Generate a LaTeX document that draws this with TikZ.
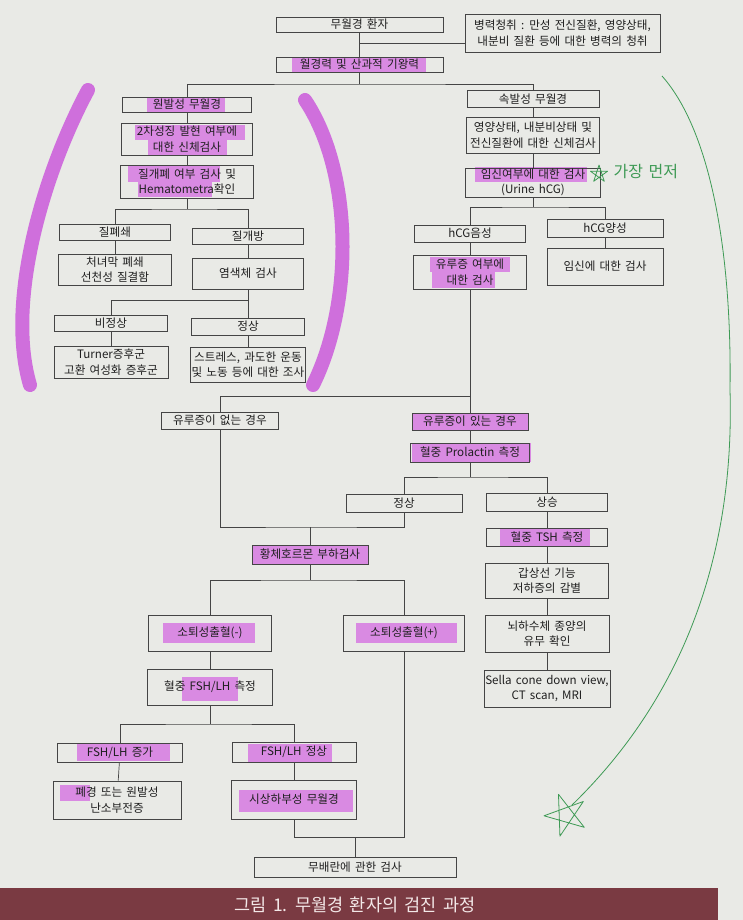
\documentclass[tikz,border=0pt]{standalone}
\usepackage{fontspec}
\setmainfont[WordSpace=1.6]{Noto Sans CJK KR}
\definecolor{page}{HTML}{E9EAE6}
\definecolor{boxline}{HTML}{454545}
\definecolor{ink}{HTML}{1F1F1F}
\definecolor{hlpink}{HTML}{D98AE2}
\definecolor{hlarc}{HTML}{CF6FDC}
\definecolor{pengreen}{HTML}{3E9A55}
\definecolor{capbar}{HTML}{7A3A42}
\definecolor{captext}{HTML}{F3E8E8}

\begin{document}
\begin{tikzpicture}[x=1pt, y=-1pt]
    % ===== PARAMETERS =====
    \pgfmathsetmacro{\W}{743}   % picture width in px
    \pgfmathsetmacro{\H}{920}   % picture height in px
    \pgfmathsetmacro{\LW}{0.7}  % line width in pt

    % ===== STYLES =====
    \tikzset{
        box/.style={draw=boxline, line width=\LW pt, align=center,
            inner sep=0pt, text=ink, font=\fontsize{11.6}{15.5}\selectfont},
        bsize/.style 2 args={minimum width=#1pt, minimum height=#2pt},
        conn/.style={draw=boxline, line width=\LW pt},
        hl/.style={fill=hlpink},
        marker/.style={draw=hlarc, line width=14pt, line cap=round},
        pen/.style={draw=pengreen, line width=0.8pt, line join=round}
    }

    % ===== PAGE =====
    \useasboundingbox (0,0) rectangle (\W,\H);
    \fill[page] (0,0) rectangle (\W,\H);

    % ===== HIGHLIGHTER =====
    % Arcs round the primary branch
    \draw[marker] (88,90) .. controls (45,170) and (5,300) .. (30,385);
    \draw[marker] (305,100) .. controls (352,170) and (355,300) .. (313,385);

    % Marked texts
    \fill[hl] (292,58) rectangle (426,72);
    \fill[hl] (147,97) rectangle (225,113);
    \fill[hl] (135,125) rectangle (245,140);
    \fill[hl] (148,140) rectangle (227,155);
    \fill[hl] (128,166) rectangle (220,182);
    \fill[hl] (138,182) rectangle (212,197);
    \fill[hl] (475,167) rectangle (587,182);
    \fill[hl] (430,257) rectangle (510,272);
    \fill[hl] (432,272) rectangle (495,288);
    \fill[hl] (413,413) rectangle (529,430);
    \fill[hl] (412,443) rectangle (531,462);
    \fill[hl] (500,528) rectangle (590,547);
    \fill[hl] (252,545) rectangle (368,564);
    \fill[hl] (163,623) rectangle (255,643);
    \fill[hl] (356,623) rectangle (457,643);
    \fill[hl] (182,677) rectangle (238,701);
    \fill[hl] (77,743) rectangle (170,761);
    \fill[hl] (248,744) rectangle (332,762);
    \fill[hl] (60,785) rectangle (90,801);
    \fill[hl] (239,790) rectangle (353,812);

    % ===== BOXES =====
    % Top
    \node[box, bsize={167}{15}] (top) at (359.5,24.5) {무월경 환자};
    \node[box, bsize={167}{15}] (hist) at (359.5,64.5) {월경력 및 산과적 기왕력};
    \node[box, bsize={195}{38}] (past) at (562.5,33) {병력청취 : 만성 전신질환, 영양상태,\\내분비 질환 등에 대한 병력의 청취};

    % Primary amenorrhea
    \node[box, bsize={129}{15}] (prim) at (187,104.5) {원발성 무월경};
    \node[box, bsize={131}{32}] (sex) at (187,139) {2차성징 발현 여부에\\대한 신체검사};
    \node[box, bsize={133}{33}] (vag) at (187,181.5) {질개폐 여부 검사 및\\Hematometra확인};
    \node[box, bsize={111}{16}] (clos) at (115,232) {질폐쇄};
    \node[box, bsize={111}{16}] (open) at (248,236) {질개방};
    \node[box, bsize={113}{31}] (hymen) at (115,269.5) {처녀막 폐쇄\\선천성 질결함};
    \node[box, bsize={111}{31}] (chrom) at (248,273.5) {염색체 검사};
    \node[box, bsize={113}{16}] (abn) at (111,323) {비정상};
    \node[box, bsize={113}{17}] (norm) at (248,326.5) {정상};
    \node[box, bsize={114}{32}] (turner) at (111,362) {Turner증후군\\고환 여성화 증후군};
    \node[box, bsize={115}{35}] (stress) at (248,364.5) {스트레스, 과도한 운동\\및 노동 등에 대한 조사};

    % Secondary amenorrhea
    \node[box, bsize={132}{17}] (sec) at (533,99) {속발성 무월경};
    \node[box, bsize={133}{36}] (phys) at (533,135) {영양상태, 내분비상태 및\\전신질환에 대한 신체검사};
    \node[box, bsize={135}{29}] (preg) at (533,182.5) {임신여부에 대한 검사\\(Urine hCG)};
    \node[box, bsize={111}{17}] (neg) at (470,233.5) {hCG음성};
    \node[box, bsize={116}{18}] (pos) at (605,228.5) {hCG양성};
    \node[box, bsize={113}{34}] (galac) at (470,272) {유루증 여부에\\대한 검사};
    \node[box, bsize={116}{37}] (pregtest) at (605,266.5) {임신에 대한 검사};

    % Galactorrhea
    \node[box, bsize={117}{17}] (nogal) at (220,420.5) {유루증이 없는 경우};
    \node[box, bsize={116}{17}] (yesgal) at (470,421.5) {유루증이 있는 경우};
    \node[box, bsize={119}{19}] (prl) at (470,452.5) {혈중 Prolactin 측정};
    \node[box, bsize={116}{18}] (prln) at (404,503) {정상};
    \node[box, bsize={121}{18}] (prlh) at (547,502) {상승};
    \node[box, bsize={121}{18}] (tsh) at (547,537) {혈중 TSH 측정};
    \node[box, bsize={123}{35}] (hypo) at (547,580.5) {갑상선 기능\\저하증의 감별};
    \node[box, bsize={124}{37}] (pit) at (547,633.5) {뇌하수체 종양의\\유무 확인};
    \node[box, bsize={126}{37}] (sella) at (547,688.5) {Sella cone down view,\\CT scan, MRI};

    % Progesterone challenge
    \node[box, bsize={116}{19}] (prog) at (310,554.5) {황체호르몬 부하검사};
    \node[box, bsize={123}{36}] (wdneg) at (210,633) {소퇴성출혈(-)};
    \node[box, bsize={121}{36}] (wdpos) at (404,633) {소퇴성출혈(+)};
    \node[box, bsize={125}{36}] (fsh) at (210,687) {혈중 FSH/LH 측정};
    \node[box, bsize={125}{19}] (fshup) at (120,752.5) {FSH/LH 증가};
    \node[box, bsize={124}{20}] (fshn) at (294,752) {FSH/LH 정상};
    \node[box, bsize={128}{38}] (meno) at (117,800) {폐경 또는 원발성\\난소부전증};
    \node[box, bsize={125}{39}] (hypoth) at (294,799.5) {시상하부성 무월경};
    \node[box, bsize={202}{20}] (anov) at (355,867) {무배란에 관한 검사};

    % ===== CONNECTORS =====
    \coordinate (j0) at (359.5,43);
    \coordinate (f1) at (359.5,84);
    \coordinate (f2) at (187,209);
    \coordinate (f3) at (248,300);
    \coordinate (f4) at (533,207);
    \coordinate (f5) at (470,396);
    \coordinate (f6) at (470,477);
    \coordinate (f7) at (310,527);
    \coordinate (f8) at (310,580);
    \coordinate (f9) at (210,724);
    \coordinate (f10) at (355,837);

    \draw[conn] (top) -- (hist);
    \draw[conn] (j0) -- (j0 -| past.west);
    \draw[conn] (hist) -- (f1);
    \draw[conn] (prim.north) |- (f1) -| (sec.north);

    \draw[conn] (prim) -- (sex);
    \draw[conn] (sex) -- (vag);
    \draw[conn] (vag) -- (f2);
    \draw[conn] (clos.north) |- (f2) -| (open.north);
    \draw[conn] (clos) -- (hymen);
    \draw[conn] (open) -- (chrom);
    \draw[conn] (chrom) -- (norm);
    \draw[conn] (abn.north) |- (f3);
    \draw[conn] (abn) -- (turner);
    \draw[conn] (norm) -- (stress);

    \draw[conn] (sec) -- (phys);
    \draw[conn] (phys) -- (preg);
    \draw[conn] (preg) -- (f4);
    \draw[conn] (neg.north) |- (f4) -| (pos.north);
    \draw[conn] (neg) -- (galac);
    \draw[conn] (pos) -- (pregtest);

    \draw[conn] (galac) -- (yesgal);
    \draw[conn] (nogal.north) |- (f5);
    \draw[conn] (yesgal) -- (prl);
    \draw[conn] (prl) -- (f6);
    \draw[conn] (prln.north) |- (f6) -| (prlh.north);
    \draw[conn] (prlh) -- (tsh);
    \draw[conn] (tsh) -- (hypo);
    \draw[conn] (hypo) -- (pit);
    \draw[conn] (pit) -- (sella);

    \draw[conn] (nogal.south) |- (f7) -| (prln.south);
    \draw[conn] (f7) -- (prog);
    \draw[conn] (prog) -- (f8);
    \draw[conn] (wdneg.north) |- (f8) -| (wdpos.north);
    \draw[conn] (wdneg) -- (fsh);
    \draw[conn] (fsh) -- (f9);
    \draw[conn] (fshup.north) |- (f9) -| (fshn.north);
    \draw[conn] (fshup) -- (meno);
    \draw[conn] (fshn) -- (hypoth);
    \draw[conn] (hypoth.south) |- (f10) -| (wdpos.south);
    \draw[conn] (f10) -- (anov);

    % ===== PEN NOTES =====
    \draw[pen] (662,76) .. controls (710,130) and (732,250) .. (730,390)
        .. controls (735,560) and (680,700) .. (572,805);
    \draw[pen, shift={(566,815)}] (250:22) -- (34:22) -- (178:22) -- (322:22) -- (106:22) -- cycle;
    \draw[pen, shift={(599,174)}] (270:9) -- (54:9) -- (198:9) -- (342:9) -- (126:9) -- cycle;
    \node[text=pengreen, font=\fontsize{16}{16}\selectfont, anchor=west] (note) at (610,172) {가장 먼저};

    % ===== CAPTION =====
    \fill[capbar] (0,888) rectangle (718,\H);
    \node[text=captext, font=\fontsize{17.5}{17.5}\selectfont] (cap) at (355,904.5) {그림 1. 무월경 환자의 검진 과정};
\end{tikzpicture}
\end{document}
